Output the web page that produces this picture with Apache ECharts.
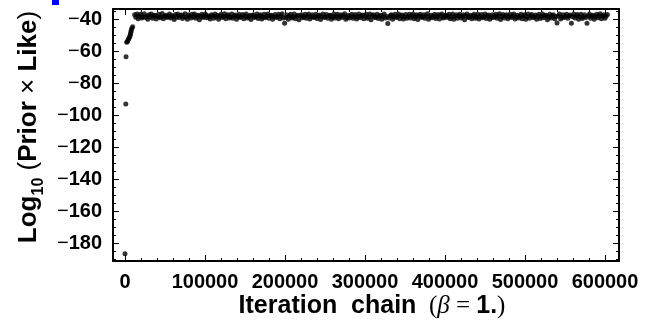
<!DOCTYPE html>
<html>
<head>
<meta charset="utf-8">
<script src="https://cdn.jsdelivr.net/npm/echarts@6/dist/echarts.min.js"></script>
<style>
  html, body { margin: 0; padding: 0; background: #fff; }
  #chart { width: 645px; height: 326px; }
</style>
</head>
<body>
<div id="chart"></div>
<script>
// Burn-in samples at the start of the chain: [iteration, log10(prior*like)]
const burnIn = [
  [0, -186.7], [1000, -93.1], [1300, -63.6], [2200, -54.6], [3000, -54.0],
  [3800, -53.2], [4600, -52.4], [5500, -51.6], [6200, -50.6], [6800, -49.5],
  [7300, -48.3], [7800, -47.2], [8400, -46.0], [9600, -44.8]
];

// Stationary part of the chain, thinned: first iteration and spacing
const chainStart = 12000;
const chainStep = 1500;
const chainValues = [
  -37.4, -38.9, -36.9, -39.8, -38.2, -37.1, -39.3, -38.6, -36.7, -39.0,
  -38.1, -40.2, -37.3, -38.8, -36.9, -39.5, -38.0, -37.6, -40.0, -38.4,
  -37.0, -39.2, -38.7, -36.6, -39.9, -38.3, -37.7, -39.0, -38.5, -36.9,
  -39.4, -37.8, -38.6, -40.3, -37.2, -38.9, -36.8, -39.1, -38.0, -37.5,
  -39.7, -38.4, -36.7, -38.8, -40.1, -37.4, -38.2, -39.3, -37.0, -38.7,
  -36.9, -39.6, -38.1, -37.6, -40.4, -38.5, -37.1, -39.0, -38.3, -36.8,
  -39.2, -37.9, -38.6, -40.0, -37.3, -38.0, -39.5, -36.9, -38.8, -37.7,
  -40.2, -38.3, -37.0, -39.1, -38.5, -36.7, -39.8, -38.0, -37.4, -39.3,
  -38.7, -36.8, -39.6, -38.2, -37.5, -40.1, -38.4, -37.1, -39.0, -38.6,
  -37.2, -39.9, -38.1, -36.9, -39.4, -38.8, -37.6, -40.3, -38.0, -37.3,
  -39.1, -38.5, -36.8, -39.7, -38.2, -37.4, -40.0, -38.7, -37.0, -39.2,
  -38.3, -36.9, -39.5, -38.0, -37.7, -40.2, -38.6, -37.2, -39.0, -38.4,
  -37.1, -39.8, -38.1, -36.7, -39.3, -42.6, -38.9, -37.5, -40.1, -38.2,
  -37.0, -39.4, -38.7, -36.8, -39.9, -38.3, -37.6, -40.4, -38.0, -37.3,
  -39.2, -38.6, -37.1, -39.6, -38.1, -36.9, -40.0, -38.5, -37.4, -39.1,
  -38.8, -37.0, -39.7, -38.2, -37.5, -40.3, -38.4, -36.8, -39.0, -38.6,
  -37.2, -39.5, -38.0, -37.7, -40.1, -38.7, -36.9, -39.3, -38.3, -37.1,
  -39.8, -38.5, -37.3, -39.1, -38.0, -36.7, -40.2, -38.9, -37.6, -39.4,
  -38.2, -37.0, -39.6, -38.4, -37.2, -40.0, -38.6, -36.8, -39.2, -38.1,
  -37.5, -39.9, -38.3, -37.1, -39.5, -38.8, -36.9, -40.4, -38.0, -37.4,
  -39.0, -38.7, -37.0, -39.7, -38.2, -37.6, -40.1, -38.5, -36.8, -39.3,
  -38.4, -42.8, -39.4, -38.0, -37.3, -40.2, -38.6, -37.1, -39.1, -38.3,
  -36.9, -39.8, -38.1, -37.5, -40.0, -38.7, -37.2, -39.6, -38.4, -37.0,
  -39.3, -38.0, -36.8, -39.9, -38.5, -37.4, -40.3, -38.2, -37.1, -39.0,
  -38.6, -37.3, -39.5, -38.1, -36.7, -40.1, -38.8, -37.6, -39.2, -38.3,
  -37.0, -39.7, -38.4, -37.2, -40.0, -38.0, -36.9, -39.4, -38.7, -37.5,
  -39.1, -38.2, -37.1, -39.8, -38.6, -36.8, -40.2, -38.3, -37.4, -39.6,
  -38.0, -37.0, -39.3, -38.5, -37.3, -40.4, -38.1, -36.9, -39.0, -38.8,
  -37.6, -39.9, -38.2, -37.1, -39.5, -38.7, -37.0, -40.0, -38.4, -37.2,
  -39.2, -38.6, -36.8, -39.7, -38.0, -37.5, -40.1, -38.9, -37.3, -39.0,
  -38.3, -37.0, -39.6, -38.1, -36.7, -40.3, -38.5, -37.2, -39.4, -38.0,
  -37.4, -39.8, -38.6, -37.0, -39.1, -38.2, -36.9, -40.0, -38.7, -37.6,
  -39.3, -38.4, -37.1, -39.9, -38.0, -37.3, -40.2, -38.6, -36.8, -39.5,
  -38.1, -37.2, -39.0, -38.8, -37.5, -40.1, -38.3, -37.0, -39.7, -38.4,
  -36.9, -39.2, -38.0, -37.6, -40.4, -38.7, -37.1, -39.4, -38.2, -37.3,
  -39.8, -38.5, -42.5, -38.1, -36.8, -40.0, -38.9, -37.4, -39.1, -38.3,
  -37.0, -39.6, -38.2, -37.5, -42.7, -38.6, -36.9, -39.3, -38.0, -37.2,
  -40.1, -38.4, -37.1, -39.7, -38.8, -37.3, -39.0, -42.6, -38.1, -36.8,
  -39.5, -38.2, -37.6, -40.2, -38.5, -37.0, -39.2, -38.0, -36.7, -39.8,
  -38.3, -37.4, -39.6, -38.1, -37.2
];

// Axis ticks
const xTicks = [0, 100000, 200000, 300000, 400000, 500000, 600000];
const yTicks = [-180, -160, -140, -120, -100, -80, -60, -40];

const xRange = [-15000, 617500];
const yRange = [-191.25, -33.75];

const xMinor = [];
for (let v = 20000; v <= 600000; v += 20000) if (v % 100000 !== 0) xMinor.push(v);
const yMinor = [];
for (let v = -190; v <= -35; v += 5) if (v % 20 !== 0) yMinor.push(v);

const points = burnIn.concat(chainValues.map((v, i) => [chainStart + i * chainStep, v]));

const labelFont = 'Liberation Sans, Arial, Helvetica, sans-serif';
const serifFont = 'Liberation Serif, Times New Roman, serif';

function frameAxis(kind, position, ticks, isMajor, withLine, withLabels) {
  const ax = {
    type: 'value',
    position: position,
    min: kind === 'x' ? xRange[0] : yRange[0],
    max: kind === 'x' ? xRange[1] : yRange[1],
    splitLine: { show: false },
    axisLine: { show: withLine, onZero: false, lineStyle: { color: '#000', width: 2 } },
    axisTick: {
      show: true, inside: true, customValues: ticks,
      length: isMajor ? 6 : 3,
      lineStyle: { color: '#000', width: 1 }
    },
    axisLabel: { show: false }
  };
  if (withLabels) {
    if (kind === 'x') {
      ax.axisLabel = {
        show: true, customValues: ticks, margin: 11,
        color: '#000', fontFamily: labelFont, fontWeight: 'bold', fontSize: 20,
        formatter: v => String(v)
      };
    } else {
      ax.axisLabel = {
        show: true, customValues: ticks, margin: 11,
        color: '#000',
        formatter: v => '{m|\u2212}{n|' + Math.abs(v) + '}',
        rich: {
          m: { fontFamily: labelFont, fontWeight: 'normal', fontSize: 20, color: '#000' },
          n: { fontFamily: labelFont, fontWeight: 'bold', fontSize: 20, color: '#000' }
        }
      };
    }
  }
  return ax;
}

const chart = echarts.init(document.getElementById('chart'), null, { renderer: 'canvas' });

chart.setOption({
  backgroundColor: '#fff',
  animation: false,
  grid: { left: 113, right: 26, top: 9, bottom: 65, containLabel: false },
  xAxis: [
    frameAxis('x', 'bottom', xTicks, true, true, true),
    frameAxis('x', 'bottom', xMinor, false, false, false),
    frameAxis('x', 'top', xTicks, true, true, false),
    frameAxis('x', 'top', xMinor, false, false, false)
  ],
  yAxis: [
    frameAxis('y', 'left', yTicks, true, true, true),
    frameAxis('y', 'left', yMinor, false, false, false),
    frameAxis('y', 'right', yTicks, true, true, false),
    frameAxis('y', 'right', yMinor, false, false, false)
  ],
  series: [{
    type: 'scatter',
    xAxisIndex: 0,
    yAxisIndex: 0,
    data: points,
    symbol: 'circle',
    symbolSize: 5,
    itemStyle: { color: '#000' },
    silent: true
  }],
  graphic: [
    {
      type: 'rect',
      shape: { x: 52, y: 0, width: 7, height: 5 },
      style: { fill: '#0000ff' }
    },
    {
      type: 'text',
      x: 27, y: 127,
      rotation: Math.PI / 2,
      style: {
        text: '{b|Log}{s|10}{r| (}{b|Prior}{r| \u00d7 }{b|Like}{r|)}',
        align: 'center',
        verticalAlign: 'middle',
        rich: {
          b: { fontFamily: labelFont, fontWeight: 'bold', fontSize: 26, fill: '#000', lineHeight: 30, verticalAlign: 'bottom' },
          s: { fontFamily: labelFont, fontWeight: 'bold', fontSize: 16, fill: '#000', lineHeight: 30, verticalAlign: 'bottom', padding: [0, 0, -5, 0] },
          r: { fontFamily: labelFont, fontWeight: 'normal', fontSize: 26, fill: '#000', lineHeight: 30, verticalAlign: 'bottom' }
        }
      }
    },
    {
      type: 'text',
      x: 372, y: 306,
      style: {
        text: '{b|Iteration  chain}{r|  (}{i|\u03b2}{r| = }{b|1.}{r|)}',
        align: 'center',
        verticalAlign: 'middle',
        rich: {
          b: { fontFamily: labelFont, fontWeight: 'bold', fontSize: 25, fill: '#000' },
          r: { fontFamily: serifFont, fontWeight: 'normal', fontSize: 25, fill: '#000' },
          i: { fontFamily: serifFont, fontStyle: 'italic', fontWeight: 'normal', fontSize: 25, fill: '#000' }
        }
      }
    }
  ]
});
</script>
</body>
</html>
